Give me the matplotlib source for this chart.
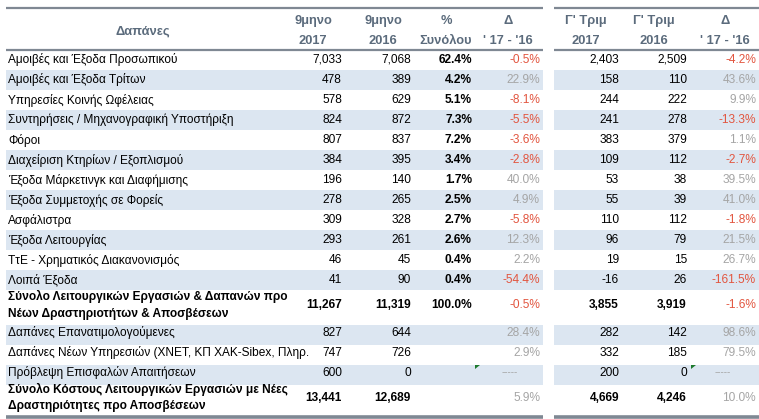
import matplotlib.pyplot as plt
from matplotlib.patches import Rectangle, Polygon

plt.rcParams['font.family'] = ['Liberation Sans', 'DejaVu Sans']

# data
categories = [
    'Αμοιβές και Έξοδα Προσωπικού',
    'Αμοιβές και Έξοδα Τρίτων',
    'Υπηρεσίες Κοινής Ωφέλειας',
    'Συντηρήσεις / Μηχανογραφική Υποστήριξη',
    'Φόροι',
    'Διαχείριση Κτηρίων / Εξοπλισμού',
    'Έξοδα Μάρκετινγκ και Διαφήμισης',
    'Έξοδα Συμμετοχής σε Φορείς',
    'Ασφάλιστρα',
    'Έξοδα Λειτουργίας',
    'ΤτΕ - Χρηματικός Διακανονισμός',
    'Λοιπά Έξοδα',
    'Σύνολο Λειτουργικών Εργασιών & Δαπανών προ\nΝέων Δραστηριοτήτων & Αποσβέσεων',
    'Δαπάνες Επανατιμολογούμενες',
    'Δαπάνες Νέων Υπηρεσιών (ΧΝΕΤ, ΚΠ ΧΑΚ-Sibex, Πληρ.',
    'Πρόβλεψη Επισφαλών Απαιτήσεων',
    'Σύνολο Κόστους Λειτουργικών Εργασιών με Νέες\nΔραστηριότητες προ Αποσβέσεων',
]
m9_2017 = [7033, 478, 578, 824, 807, 384, 196, 278, 309, 293, 46, 41, 11267, 827, 747, 600, 13441]
m9_2016 = [7068, 389, 629, 872, 837, 395, 140, 265, 328, 261, 45, 90, 11319, 644, 726, 0, 12689]
pct_total = [62.4, 4.2, 5.1, 7.3, 7.2, 3.4, 1.7, 2.5, 2.7, 2.6, 0.4, 0.4, 100.0, None, None, None, None]
delta_9m = [-0.5, 22.9, -8.1, -5.5, -3.6, -2.8, 40.0, 4.9, -5.8, 12.3, 2.2, -54.4, -0.5, 28.4, 2.9, None, 5.9]
q3_2017 = [2403, 158, 244, 241, 383, 109, 53, 55, 110, 96, 19, -16, 3855, 282, 332, 200, 4669]
q3_2016 = [2509, 110, 222, 278, 379, 112, 38, 39, 112, 79, 15, 26, 3919, 142, 185, 0, 4246]
delta_q3 = [-4.2, 43.6, 9.9, -13.3, 1.1, -2.7, 39.5, 41.0, -1.8, 21.5, 26.7, -161.5, -1.6, 98.6, 79.5, None, 10.0]
total_rows = [12, 16]
shaded_rows = [1, 3, 5, 7, 9, 11, 13, 15]
flag_rows = [15]

# layout (pixels)
W, H = 759, 419
row_h = [20] * 12 + [35, 20, 20, 20, 30]
y0 = 50
left_x0, left_x1 = 6, 543
right_x0, right_x1 = 554, 759
col_right = [342, 411, 472, 540, 619, 687, 756]
hdr_color = '#5b6b7c'
line_color = '#7f8893'
band_color = '#dce6f1'
red = '#e2553f'
grey = '#a5a5a5'
fs = 8.6

fig = plt.figure(figsize=(W / 100, H / 100), dpi=100)
ax = fig.add_axes([0, 0, 1, 1])
ax.set_xlim(0, W)
ax.set_ylim(H, 0)
ax.axis('off')

# header lines
for xa, xb in [(left_x0, left_x1), (right_x0, right_x1)]:
    ax.plot([xa, xb], [8, 8], color=line_color, lw=1.6, solid_capstyle='butt')
    ax.plot([xa, xb], [50, 50], color=line_color, lw=1.6, solid_capstyle='butt')
    ax.plot([xa, xb], [416.5, 416.5], color=line_color, lw=2.6, solid_capstyle='butt')

# header text
hdr = dict(ha='center', va='center', fontsize=9.3, fontweight='bold', color=hdr_color)
ax.text(143, 31, 'Δαπάνες', **hdr)
headers = [('9μηνο', '2017', 313), ('9μηνο', '2016', 383), ('%', 'Συνόλου', 446),
           ('Δ', "' 17 - '16", 508), ("Γ' Τριμ", '2017', 586), ("Γ' Τριμ", '2016', 654),
           ('Δ', "' 17 - '16", 725)]
for top, bot, xc in headers:
    ax.text(xc, 21, top, **hdr)
    ax.text(xc, 41, bot, **hdr)


def fmt_int(v):
    return f'{v:,}'


y = y0
for i, name in enumerate(categories):
    h = row_h[i]
    yc = y + h / 2
    if i >= 12:
        yc -= 2.5
    if i in shaded_rows:
        ax.add_patch(Rectangle((left_x0, y), left_x1 - left_x0, h, color=band_color, lw=0))
        ax.add_patch(Rectangle((right_x0, y), right_x1 - right_x0, h, color=band_color, lw=0))
    bold = 'bold' if i in total_rows else 'normal'
    ax.text(8, yc, name, ha='left', va='center', fontsize=fs, fontweight=bold,
            linespacing=1.5, color='black')
    ax.text(col_right[0], yc, fmt_int(m9_2017[i]), ha='right', va='center', fontsize=fs, fontweight=bold)
    ax.text(col_right[1], yc, fmt_int(m9_2016[i]), ha='right', va='center', fontsize=fs, fontweight=bold)
    if pct_total[i] is not None:
        ax.text(col_right[2], yc, f'{pct_total[i]:.1f}%', ha='right', va='center', fontsize=fs,
                fontweight='bold')
    ax.text(col_right[4], yc, fmt_int(q3_2017[i]), ha='right', va='center', fontsize=fs, fontweight=bold)
    ax.text(col_right[5], yc, fmt_int(q3_2016[i]), ha='right', va='center', fontsize=fs, fontweight=bold)
    for col, d, xc in [(3, delta_9m[i], 510), (6, delta_q3[i], 723)]:
        if d is None:
            ax.text(xc, yc, '-----', ha='center', va='center', fontsize=fs - 1.5, color=grey)
        else:
            ax.text(col_right[col], yc, f'{d:.1f}%', ha='right', va='center', fontsize=fs,
                    color=red if d < 0 else grey)
    if i in flag_rows:
        for xf in (480, 696):
            ax.add_patch(Polygon([(xf - 5, y), (xf, y), (xf - 5, y + 4)],
                                 closed=True, color='#1e7a2e', lw=0))
    y += h

fig.savefig('out.png', dpi=100)
